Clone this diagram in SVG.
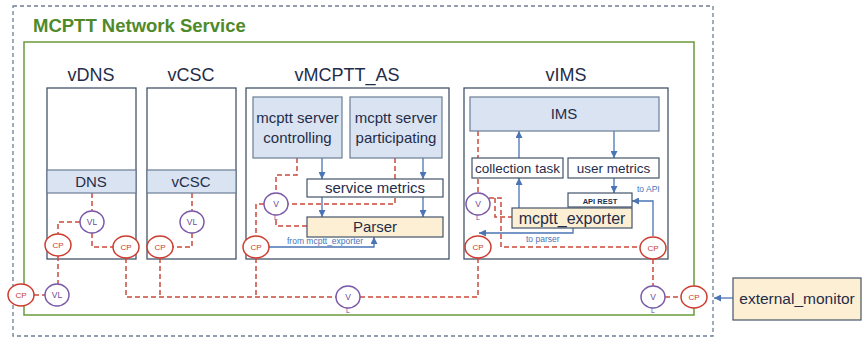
<svg xmlns="http://www.w3.org/2000/svg" width="862" height="337" viewBox="0 0 862 337">
<defs>
<marker id="ah" viewBox="0 0 8 8" refX="8" refY="4" markerWidth="7" markerHeight="7" markerUnits="userSpaceOnUse" orient="auto">
<path d="M0,0 L8,4 L0,8 z" fill="#4a74b4"/>
</marker>
<style>
text{font-family:"Liberation Sans",Arial,sans-serif;}
.vnf{fill:#ffffff;stroke:#44546a;stroke-width:1.3;}
.band{fill:#dae3f1;stroke:#6b7d96;stroke-width:1.2;}
.wbox{fill:#ffffff;stroke:#44546a;stroke-width:1.2;}
.ybox{fill:#fdefd3;stroke:#44546a;stroke-width:1.2;}
.lbl{font-size:18px;fill:#1f2d4a;text-anchor:middle;}
.t15{font-size:15px;fill:#1f2d4a;text-anchor:middle;}
.t14{font-size:13.5px;fill:#1f2d4a;text-anchor:middle;}
.small{font-size:8.5px;fill:#4a74b4;}
.red{fill:none;stroke:#cc4a3c;stroke-width:1.5;stroke-dasharray:5 3;}
.blue{fill:none;stroke:#4a74b4;stroke-width:1.3;marker-end:url(#ah);}
.cp{fill:#ffffff;stroke:#cc3b2e;stroke-width:1.5;}
.cpt{font-size:8px;fill:#cc3b2e;text-anchor:middle;}
.vl{fill:#ffffff;stroke:#7a5aa8;stroke-width:1.5;}
.vlt{font-size:8.5px;fill:#6a4a98;text-anchor:middle;}
.lt{font-size:7px;fill:#6a4a98;text-anchor:middle;}
</style>
</defs>
<rect width="862" height="337" fill="#ffffff"/>

<g id="ns">
<rect x="13" y="6" width="700" height="330" fill="none" stroke="#6f7f96" stroke-width="1.3" stroke-dasharray="4 3"/>
<rect x="24" y="42" width="670" height="273" fill="none" stroke="#6a9a3a" stroke-width="1.5"/>
<text x="33" y="32" font-size="18.5" font-weight="bold" fill="#4f8a2a">MCPTT Network Service</text>
</g>

<g id="vDNS">
<text class="lbl" x="91" y="81">vDNS</text>
<rect class="vnf" x="47" y="88" width="89" height="171"/>
</g>
<g id="vCSC">
<text class="lbl" x="191" y="81">vCSC</text>
<rect class="vnf" x="147" y="88" width="89" height="171"/>
</g>
<g id="vMCPTT_AS">
<text class="lbl" x="347" y="81">vMCPTT_AS</text>
<rect class="vnf" x="246" y="88" width="203" height="171"/>
</g>
<g id="vIMS">
<text class="lbl" x="566" y="81">vIMS</text>
<rect class="vnf" x="464" y="88" width="204" height="171"/>
</g>

<g id="connectors">
<path class="red" d="M92,193 V211"/>
<path class="red" d="M80,222 H58 V234"/>
<path class="red" d="M92,233 V247 H113"/>
<path class="red" d="M58,256 V284"/>
<path class="red" d="M34,295 H45"/>
<path class="red" d="M192,193 V211"/>
<path class="red" d="M192,233 V247 H173"/>
<path class="red" d="M126,258 V297 H336"/>
<path class="red" d="M160,258 V297"/>
<path class="red" d="M256,258 V297"/>
<path class="red" d="M360,297 H478 V258"/>
<path class="red" d="M297,158 V175 H276 V193"/>
<path class="red" d="M395,158 V204 H288"/>
<path class="red" d="M276,220 V226 H307"/>
<path class="red" d="M264,204 H256 V236"/>
<path class="red" d="M478,131 V193"/>
<path class="red" d="M489,198 H501 V247 H640"/>
<path class="red" d="M495,198 V217 H512"/>
<path class="red" d="M653,259 V286"/>
<path class="red" d="M665,297 H681"/>
<path class="blue" d="M322,158 V179"/>
<path class="blue" d="M423,158 V179"/>
<path class="blue" d="M322,197 V217"/>
<path class="blue" d="M423,197 V217"/>
<path class="blue" d="M269,247 H374 V237"/>
<path class="blue" d="M519,158 V131"/>
<path class="blue" d="M519,208 V178"/>
<path class="blue" d="M614,131 V158"/>
<path class="blue" d="M614,178 V193"/>
<path class="blue" d="M653,236 V201 H632"/>
<path class="blue" d="M573,228 V233 H479"/>
<path class="blue" d="M733,298 H714"/>
<text class="small" x="287" y="244">from mcptt_exporter</text>
<text class="small" x="526" y="242">to parser</text>
<text class="small" x="637" y="192">to API</text>
</g>

<g id="DNS">
<rect class="band" x="47" y="170" width="89" height="23"/>
<text class="t15" x="91" y="187">DNS</text>
</g>
<g id="vCSC_app">
<rect class="band" x="147" y="170" width="89" height="23"/>
<text class="t15" x="191" y="187">vCSC</text>
</g>
<g id="mcptt_ctrl">
<rect class="band" x="253" y="97" width="89" height="61"/>
<text class="t15" x="297.5" y="123">mcptt server</text>
<text class="t15" x="297.5" y="143">controlling</text>
</g>
<g id="mcptt_part">
<rect class="band" x="350" y="97" width="92" height="61"/>
<text class="t15" x="396" y="123">mcptt server</text>
<text class="t15" x="396" y="143">participating</text>
</g>
<g id="service_metrics">
<rect class="wbox" x="307" y="179" width="136" height="18"/>
<text class="t15" x="375" y="193">service metrics</text>
</g>
<g id="parser">
<rect class="ybox" x="307" y="217" width="136" height="20"/>
<text class="t15" x="375" y="232">Parser</text>
</g>
<g id="IMS">
<rect class="band" x="470" y="97" width="189" height="34"/>
<text class="t15" x="564" y="119">IMS</text>
</g>
<g id="collection_task">
<rect class="wbox" x="472" y="158" width="91" height="20"/>
<text class="t14" x="517.5" y="173">collection task</text>
</g>
<g id="user_metrics">
<rect class="wbox" x="568" y="158" width="91" height="20"/>
<text class="t14" x="613.5" y="173">user metrics</text>
</g>
<g id="mcptt_exporter">
<rect class="ybox" x="512" y="208" width="120" height="20"/>
<text x="572" y="223.5" font-size="16" fill="#1f2d4a" text-anchor="middle">mcptt_exporter</text>
</g>
<g id="api_rest">
<rect class="wbox" x="568" y="193" width="64" height="14"/>
<text x="600" y="203.5" font-size="7.5" font-weight="bold" fill="#1f2d4a" text-anchor="middle">API REST</text>
</g>
<g id="external_monitor">
<rect class="ybox" x="733" y="278" width="128" height="42"/>
<text x="797" y="304" font-size="15.5" fill="#1f2d4a" text-anchor="middle">external_monitor</text>
</g>

<g id="vl_dns"><ellipse class="vl" cx="92" cy="222" rx="12" ry="11"/><text class="vlt" x="92" y="225">VL</text></g>
<g id="cp_dns1"><ellipse class="cp" cx="58" cy="245" rx="13" ry="11"/><text class="cpt" x="58" y="248">CP</text></g>
<g id="cp_dns2"><ellipse class="cp" cx="126" cy="247" rx="13" ry="11"/><text class="cpt" x="126" y="250">CP</text></g>
<g id="vl_csc"><ellipse class="vl" cx="192" cy="222" rx="12" ry="11"/><text class="vlt" x="192" y="225">VL</text></g>
<g id="cp_csc"><ellipse class="cp" cx="160" cy="247" rx="13" ry="11"/><text class="cpt" x="160" y="250">CP</text></g>
<g id="cp_ext1"><ellipse class="cp" cx="21" cy="295" rx="13" ry="11"/><text class="cpt" x="21" y="298">CP</text></g>
<g id="vl_ext1"><ellipse class="vl" cx="57" cy="295" rx="12" ry="11"/><text class="vlt" x="57" y="298">VL</text></g>
<g id="v_as"><ellipse class="vl" cx="276" cy="204" rx="12" ry="11"/><text class="vlt" x="276" y="207">V</text><text class="lt" x="276" y="220">L</text></g>
<g id="cp_as"><ellipse class="cp" cx="256" cy="247" rx="13" ry="11"/><text class="cpt" x="256" y="250">CP</text></g>
<g id="v_mgmt"><ellipse class="vl" cx="348" cy="297" rx="12" ry="11"/><text class="vlt" x="348" y="300">V</text><text class="lt" x="348" y="313">L</text></g>
<g id="v_ims"><ellipse class="vl" cx="478" cy="204" rx="12" ry="11"/><text class="vlt" x="478" y="207">V</text><text class="lt" x="478" y="220">L</text></g>
<g id="cp_ims1"><ellipse class="cp" cx="478" cy="247" rx="13" ry="11"/><text class="cpt" x="478" y="250">CP</text></g>
<g id="cp_ims2"><ellipse class="cp" cx="653" cy="248" rx="13" ry="11"/><text class="cpt" x="653" y="251">CP</text></g>
<g id="v_ext2"><ellipse class="vl" cx="653" cy="297" rx="12" ry="11"/><text class="vlt" x="653" y="300">V</text><text class="lt" x="653" y="313">L</text></g>
<g id="cp_ext2"><ellipse class="cp" cx="694" cy="297" rx="13" ry="11"/><text class="cpt" x="694" y="300">CP</text></g>
</svg>
